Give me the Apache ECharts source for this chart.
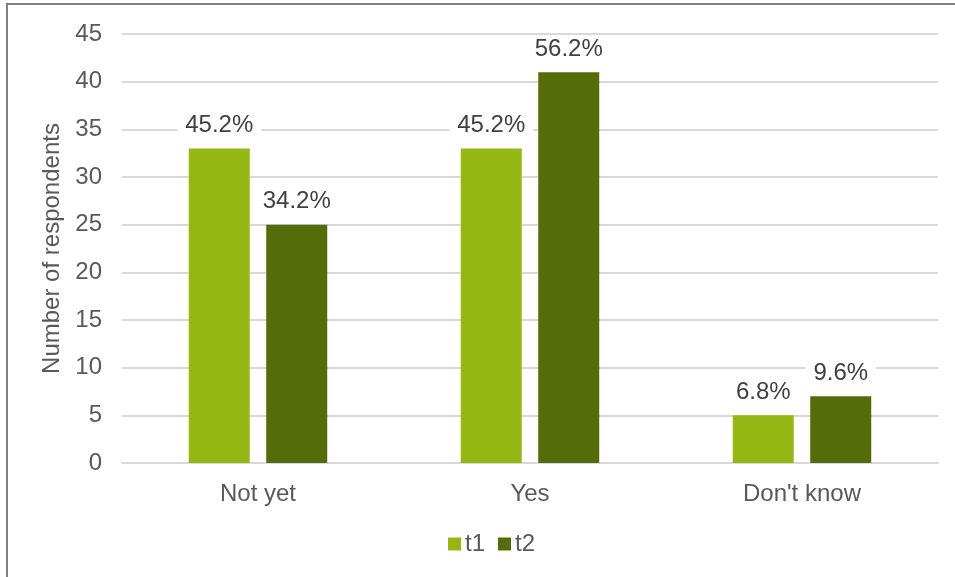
<!DOCTYPE html>
<html><head><meta charset="utf-8">
<script src="https://cdn.jsdelivr.net/npm/echarts@6/dist/echarts.min.js"></script>
<style>html,body{margin:0;padding:0;background:#fff;}#c{width:955px;height:577px;}</style>
</head><body><div id="c"></div>
<script>
const categories = ["Not yet", "Yes", "Don't know"];
const t1Values = [33, 33, 5];
const t2Values = [25, 41, 7];
const t1Labels = ["45.2%", "45.2%", "6.8%"];
const t2Labels = ["34.2%", "56.2%", "9.6%"];
const yTicks = [0, 5, 10, 15, 20, 25, 30, 35, 40, 45];

const FONT = "Liberation Sans, Arial, sans-serif";
const TXT = "#595959";
const chart = echarts.init(document.getElementById('c'), null, {renderer: 'canvas'});
function lbl(arr) {
  return {
    show: true, position: 'top', distance: 11,
    formatter: p => arr[p.dataIndex],
    color: '#404040', fontSize: 24, fontFamily: FONT,
    backgroundColor: '#fff', padding: [0, 8]
  };
}
chart.setOption({
  animation: false,
  graphic: [{type: 'rect', shape: {x: 7, y: 4, width: 960, height: 590}, style: {fill: 'none', stroke: '#808080', lineWidth: 2}, z: 100}],
  grid: {left: 122, right: 17, top: 34, bottom: 114, containLabel: false},
  legend: {
    bottom: 16, left: 443, itemWidth: 13, itemHeight: 13, itemGap: 13,
    icon: 'rect',
    textStyle: {color: TXT, fontSize: 24, fontFamily: FONT, padding: [0, 0, 0, -1]},
    data: ['t1', 't2']
  },
  xAxis: {
    type: 'category', data: categories,
    axisLine: {lineStyle: {color: '#d9d9d9', width: 2}},
    axisTick: {show: false},
    axisLabel: {color: TXT, fontSize: 24, fontFamily: FONT, margin: 19}
  },
  yAxis: {
    type: 'value', min: yTicks[0], max: yTicks[yTicks.length - 1], interval: 5,
    name: 'Number of respondents', nameLocation: 'middle', nameGap: 53,
    nameTextStyle: {color: TXT, fontSize: 24, fontFamily: FONT},
    axisLine: {show: false}, axisTick: {show: false},
    axisLabel: {color: TXT, fontSize: 24, fontFamily: FONT, margin: 20},
    splitLine: {lineStyle: {color: '#d9d9d9', width: 2}}
  },
  series: [
    {name: 't1', type: 'bar', data: t1Values, barWidth: 61, barGap: '27%', itemStyle: {color: '#95b714'}, label: lbl(t1Labels)},
    {name: 't2', type: 'bar', data: t2Values, barWidth: 61, itemStyle: {color: '#566c0a'}, label: lbl(t2Labels)}
  ]
});
</script></body></html>
